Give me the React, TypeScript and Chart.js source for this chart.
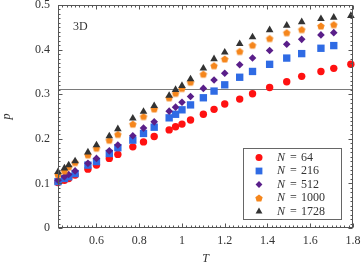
import React, { useEffect, useRef } from 'react';
import { Chart, registerables } from 'chart.js';

Chart.register(...registerables);

// ---- data ----
const T = [0.42, 0.45, 0.47, 0.5, 0.56, 0.6, 0.66, 0.7, 0.77, 0.82, 0.87, 0.94, 0.97, 1.0, 1.04, 1.1, 1.15, 1.2, 1.27, 1.33, 1.41, 1.49, 1.56, 1.65, 1.71, 1.79];

const p64 = [0.102, 0.107, 0.111, 0.119, 0.132, 0.141, 0.156, 0.165, 0.182, 0.193, 0.205, 0.22, 0.227, 0.233, 0.242, 0.255, 0.266, 0.278, 0.289, 0.301, 0.315, 0.328, 0.34, 0.351, 0.358, 0.367];
const p216 = [0.104, 0.111, 0.115, 0.122, 0.141, 0.149, 0.167, 0.18, 0.197, 0.212, 0.226, 0.247, 0.255, 0.265, 0.276, 0.292, 0.307, 0.321, 0.338, 0.351, 0.367, 0.381, 0.391, 0.403, 0.409];
const p512 = [0.107, 0.115, 0.12, 0.128, 0.145, 0.156, 0.173, 0.186, 0.207, 0.224, 0.238, 0.262, 0.271, 0.282, 0.295, 0.313, 0.332, 0.347, 0.366, 0.381, 0.398, 0.412, 0.423, 0.433, 0.438];
const p1000 = [0.12, 0.128, 0.137, 0.147, 0.164, 0.179, 0.197, 0.21, 0.233, 0.25, 0.267, 0.292, 0.302, 0.313, 0.327, 0.345, 0.364, 0.379, 0.396, 0.41, 0.425, 0.438, 0.445, 0.453, 0.456];
const p1728 = [0.126, 0.134, 0.141, 0.15, 0.17, 0.186, 0.206, 0.222, 0.246, 0.261, 0.274, 0.297, 0.31, 0.319, 0.334, 0.358, 0.379, 0.394, 0.413, 0.428, 0.444, 0.454, 0.462, 0.469, 0.472, 0.476];

const seriesN = ['64', '216', '512', '1000', '1728'];
const seriesValues = [p64, p216, p512, p1000, p1728];
const seriesColors = ['#ff1111', '#2f6be4', '#5a1f8a', '#f5861c', '#333333'];
const seriesShapes = ['circle', 'rect', 'rectRot', 'pentagon', 'triangle'];
const seriesRadius = [3.7, 5.2, 3.8, 3.9, 4.4];

const xTicks = [0.6, 0.8, 1.0, 1.2, 1.4, 1.6, 1.8];
const yTicks = [0, 0.1, 0.2, 0.3, 0.4, 0.5];
const xMin = 0.42;
const xMax = 1.8;
const yMin = 0;
const yMax = 0.5;
const pc = 0.3116;
const panelLabel = '3D';

const SERIF = '"Liberation Serif", "DejaVu Serif", serif';
const AXIS = '#555555';
const TEXT = '#333333';

function makePentagon(color: string, r: number) {
  const s = Math.ceil(r * 2 + 2);
  const c = document.createElement('canvas');
  c.width = s;
  c.height = s;
  const ctx = c.getContext('2d')!;
  ctx.fillStyle = color;
  ctx.beginPath();
  for (let k = 0; k < 5; k++) {
    const a = -Math.PI / 2 + (k * 2 * Math.PI) / 5;
    const px = s / 2 + r * Math.cos(a);
    const py = s / 2 + r * Math.sin(a) + r * 0.095;
    if (k === 0) ctx.moveTo(px, py);
    else ctx.lineTo(px, py);
  }
  ctx.closePath();
  ctx.fill();
  return c;
}

function drawMarker(ctx: CanvasRenderingContext2D, shape: string, x: number, y: number, r: number, color: string, pent: HTMLCanvasElement | null) {
  ctx.save();
  ctx.fillStyle = color;
  ctx.beginPath();
  if (shape === 'circle') {
    ctx.arc(x, y, r, 0, Math.PI * 2);
  } else if (shape === 'rect') {
    const h = r * Math.SQRT1_2;
    ctx.rect(x - h, y - h, 2 * h, 2 * h);
  } else if (shape === 'rectRot') {
    ctx.moveTo(x, y - r);
    ctx.lineTo(x + r, y);
    ctx.lineTo(x, y + r);
    ctx.lineTo(x - r, y);
    ctx.closePath();
  } else if (shape === 'triangle') {
    for (let k = 0; k < 3; k++) {
      const a = (k * 2 * Math.PI) / 3;
      const px = x + Math.sin(a) * r;
      const py = y - Math.cos(a) * r;
      if (k === 0) ctx.moveTo(px, py);
      else ctx.lineTo(px, py);
    }
    ctx.closePath();
  }
  if (shape === 'pentagon' && pent) {
    ctx.drawImage(pent, x - pent.width / 2, y - pent.height / 2);
  } else {
    ctx.fill();
  }
  ctx.restore();
}

export default function App() {
  const ref = useRef<HTMLCanvasElement | null>(null);

  useEffect(() => {
    if (!ref.current) return;
    const pent = makePentagon(seriesColors[3], seriesRadius[3]);

    const datasets = seriesN.map((n, i) => {
      const vals = seriesValues[i];
      return {
        label: 'N = ' + n,
        data: vals.map((v, k) => ({ x: T[k], y: v })),
        showLine: false,
        pointStyle: seriesShapes[i] === 'pentagon' ? pent : seriesShapes[i],
        pointRadius: seriesRadius[i],
        pointHoverRadius: seriesRadius[i],
        pointBackgroundColor: seriesColors[i],
        pointBorderColor: seriesColors[i],
        pointBorderWidth: 0,
        backgroundColor: seriesColors[i],
        borderColor: seriesColors[i],
        order: seriesN.length - i,
        clip: false as any,
      };
    });

    const decor = {
      id: 'decor',
      beforeDatasetsDraw(chart: any) {
        const { ctx, chartArea: a, scales } = chart;
        const y = Math.round(scales.y.getPixelForValue(pc)) + 0.5;
        ctx.save();
        ctx.strokeStyle = '#7a7a7a';
        ctx.lineWidth = 1;
        ctx.beginPath();
        ctx.moveTo(a.left, y);
        ctx.lineTo(a.right, y);
        ctx.stroke();
        ctx.fillStyle = TEXT;
        ctx.font = '12px ' + SERIF;
        ctx.textBaseline = 'middle';
        ctx.textAlign = 'left';
        ctx.fillText(panelLabel, a.left + 15, a.top + 22);
        ctx.restore();
      },
      afterDatasetsDraw(chart: any) {
        const { ctx, chartArea: a, scales } = chart;
        const xs = scales.x;
        const ys = scales.y;
        ctx.save();
        ctx.strokeStyle = AXIS;
        ctx.lineWidth = 1;
        const L = Math.round(a.left) + 0.5;
        const R = Math.round(a.right) - 0.5;
        const Tp = Math.round(a.top) + 0.5;
        const B = Math.round(a.bottom) - 0.5;
        ctx.strokeRect(L, Tp, R - L, B - Tp);
        ctx.beginPath();
        const nx = Math.round((xMax - xMin) / 0.02);
        for (let k = 0; k <= nx; k++) {
          const v = xMin + k * 0.02;
          const major = xTicks.some((t) => Math.abs(t - v) < 1e-6);
          const len = major ? 4 : 2;
          const px = Math.round(xs.getPixelForValue(v)) + 0.5;
          ctx.moveTo(px, B);
          ctx.lineTo(px, B - len);
          ctx.moveTo(px, Tp);
          ctx.lineTo(px, Tp + len);
        }
        const ny = Math.round((yMax - yMin) / 0.01);
        for (let k = 0; k <= ny; k++) {
          const v = yMin + k * 0.01;
          const major = yTicks.some((t) => Math.abs(t - v) < 1e-6);
          const len = major ? 4 : 2;
          const py = Math.round(ys.getPixelForValue(v)) + 0.5;
          ctx.moveTo(L, py);
          ctx.lineTo(L + len, py);
          ctx.moveTo(R, py);
          ctx.lineTo(R - len, py);
        }
        ctx.stroke();
        ctx.restore();

        // legend
        ctx.save();
        const bx = 243.5, by = 148.5, bw = 98, bh = 71;
        ctx.fillStyle = '#ffffff';
        ctx.fillRect(bx, by, bw, bh);
        ctx.strokeStyle = '#666666';
        ctx.strokeRect(bx, by, bw, bh);
        ctx.textBaseline = 'middle';
        ctx.fillStyle = TEXT;
        seriesN.forEach((n, i) => {
          const yy = 157.5 + i * 13.5;
          const r = seriesShapes[i] === 'rect' ? 4.8 : seriesShapes[i] === 'circle' ? 3.5 : seriesRadius[i] * 0.9;
          drawMarker(ctx, seriesShapes[i], 259, yy, r, seriesColors[i], pent);
          ctx.fillStyle = TEXT;
          ctx.font = 'italic 12px ' + SERIF;
          ctx.textAlign = 'left';
          ctx.fillText('N', 277, yy);
          ctx.font = '12px ' + SERIF;
          ctx.fillText('=', 290, yy);
          ctx.fillText(n, 301, yy);
        });
        ctx.restore();
      },
    };

    const chart = new Chart(ref.current, {
      type: 'scatter',
      data: { datasets: datasets as any },
      options: {
        animation: false,
        responsive: true,
        maintainAspectRatio: false,
        devicePixelRatio: 1,
        layout: { autoPadding: false, padding: { top: 5, right: 9, left: 0, bottom: 0 } },
        plugins: { legend: { display: false }, tooltip: { enabled: false } },
        scales: {
          x: {
            type: 'linear',
            min: xMin,
            max: xMax,
            afterBuildTicks: (s: any) => {
              s.ticks = xTicks.map((v) => ({ value: v }));
            },
            afterFit: (s: any) => {
              s.height = 38;
              s.paddingLeft = 0;
              s.paddingRight = 0;
            },
            ticks: {
              callback: (v: any) => String(Number(v)),
              font: { family: SERIF, size: 12 },
              color: TEXT,
              padding: 6,
              maxRotation: 0,
              autoSkip: false,
            },
            grid: { display: false, drawTicks: false },
            border: { display: false },
            title: {
              display: true,
              text: 'T',
              font: { family: SERIF, size: 12, style: 'italic' },
              color: TEXT,
              padding: { top: 0, bottom: 0 },
            },
          },
          y: {
            type: 'linear',
            min: yMin,
            max: yMax,
            afterBuildTicks: (s: any) => {
              s.ticks = yTicks.map((v) => ({ value: v }));
            },
            afterFit: (s: any) => {
              s.width = 58;
              s.paddingTop = 0;
              s.paddingBottom = 0;
            },
            ticks: {
              callback: (v: any) => String(Number(v)),
              font: { family: SERIF, size: 12 },
              color: TEXT,
              padding: 8,
              autoSkip: false,
            },
            grid: { display: false, drawTicks: false },
            border: { display: false },
            title: {
              display: true,
              text: 'p',
              font: { family: SERIF, size: 12, style: 'italic' },
              color: TEXT,
              padding: { top: 0, bottom: 0 },
            },
          },
        },
      },
      plugins: [decor],
    });

    return () => chart.destroy();
  }, []);

  return (
    <div style={{ position: 'fixed', left: 0, top: 0, width: 362, height: 266, background: '#fff' }}>
      <canvas ref={ref} />
    </div>
  );
}
